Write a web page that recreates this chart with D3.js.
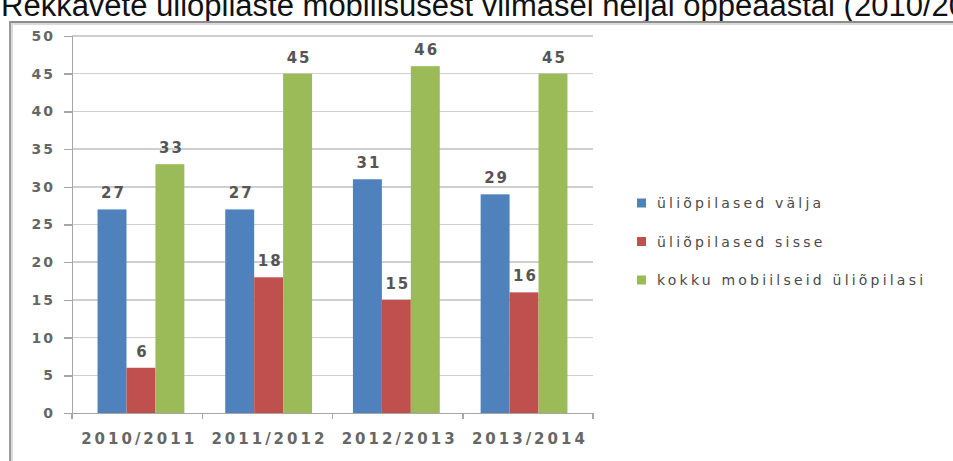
<!DOCTYPE html>
<html lang="et">
<head>
  <meta charset="UTF-8">
  <title>mobiilsus</title>
</head>
<body>
<style>
  * {
    padding: 0;
    margin: 0;
  }

  body {
    background: #fff;
    overflow: hidden;
  }

  #app {
    width: 953px;
    height: 461px;
  }

  .grid line {
    stroke: #cfcfcf;
    stroke-width: 1.5;
    shape-rendering: crispEdges;
  }

  .y-axis path, .y-axis line, .x-axis path, .x-axis line {
    stroke: #a6a6a6;
    stroke-width: 1.5;
    shape-rendering: crispEdges;
  }

  .y-axis text {
    font-family: "DejaVu Sans", sans-serif;
    font-size: 14px;
    font-weight: bold;
    fill: #666;
    letter-spacing: 2px;
  }

  .x-axis text {
    font-family: "DejaVu Sans", sans-serif;
    font-size: 15px;
    font-weight: bold;
    fill: #666;
    letter-spacing: 3px;
  }
</style>

<div id="app"></div>

<script src="https://cdn.jsdelivr.net/npm/d3@7/dist/d3.min.js"></script>

<script>

  let title = "Rekkavete üliõpilaste mobiilsusest viimasel neljal õppeaastal (2010/2014)";

  let years = ["2010/2011", "2011/2012", "2012/2013", "2013/2014"];

  let seriesNames = ["üliõpilased välja", "üliõpilased sisse", "kokku mobiilseid üliõpilasi"];
  let seriesColors = ["#4f81bd", "#c0504d", "#9bbb59"];

  let valja = [27, 27, 31, 29];
  let sisse = [6, 18, 15, 16];
  let kokku = [33, 45, 46, 45];

  let yTicks = [0, 5, 10, 15, 20, 25, 30, 35, 40, 45, 50];

  let $width = 953, $height = 461;
  let $left = 72, $right = 593, $top = 36, $bottom = 413;

  const svg = d3.select("#app").append("svg").attr("width", $width).attr("height", $height)

  // build rows from the arrays above
  const table = years.map(function (y, i) {
    return {year: y, values: [valja[i], sisse[i], kokku[i]]}
  })

  /**
   * @name title + frame
   */
  svg.append("text").text(title)
    .attr("x", 1).attr("y", 16)
    .attr("font-family", "Liberation Sans, Arial, sans-serif").attr("font-size", 31).attr("fill", "#111")

  svg.append("line").attr("x1", 10).attr("x2", $width).attr("y1", 24).attr("y2", 24)
    .attr("stroke", "#dadada").attr("stroke-width", 2)
  svg.append("line").attr("x1", 9).attr("x2", $width).attr("y1", 22).attr("y2", 22)
    .attr("stroke", "#8c8c8c").attr("stroke-width", 2)
  svg.append("line").attr("x1", 12).attr("x2", 12).attr("y1", 24).attr("y2", $height)
    .attr("stroke", "#dadada").attr("stroke-width", 2)
  svg.append("line").attr("x1", 10).attr("x2", 10).attr("y1", 21).attr("y2", $height)
    .attr("stroke", "#9a9a9a").attr("stroke-width", 2)

  /**
   * @name scales
   */
  const scaleX = d3.scaleBand().domain(years).range([$left, $right]).paddingInner(0.32).paddingOuter(0.2)
  const scaleGroup = d3.scaleBand().domain([0, 1, 2]).range([0, scaleX.bandwidth()])
  const scaleY = d3.scaleLinear().domain([0, 50]).range([$bottom, $top])

  const bandX = d3.scaleBand().domain(years).range([$left, $right])

  /**
   * @name grid
   */
  svg.append("g").classed("grid", true).selectAll("line").data(yTicks.slice(1)).enter().append("line")
    .attr("x1", $left).attr("x2", $right)
    .attr("y1", function (d) { return scaleY(d) })
    .attr("y2", function (d) { return scaleY(d) })

  /**
   * @name axes
   */
  const axisY = d3.axisLeft(scaleY).tickValues(yTicks).tickSize(8).tickPadding(9)
  svg.append("g").classed("y-axis", true).attr("transform", "translate(" + $left + ",0)").call(axisY)

  const axisX = d3.axisBottom(bandX).tickSize(0).tickPadding(20)
  const gx = svg.append("g").classed("x-axis", true).attr("transform", "translate(0," + $bottom + ")").call(axisX)
  gx.selectAll(".tick text").attr("dx", "2px")

  // category boundary ticks
  svg.append("g").classed("x-axis", true).selectAll("line")
    .data(years.concat(["end"])).enter().append("line")
    .attr("x1", function (d, i) { return $left + i * bandX.step() })
    .attr("x2", function (d, i) { return $left + i * bandX.step() })
    .attr("y1", $bottom).attr("y2", $bottom + 6)

  /**
   * @name bars
   */
  const groups = svg.selectAll(".group").data(table).enter().append("g").classed("group", true)
    .attr("transform", function (d) { return "translate(" + scaleX(d.year) + ",0)" })

  groups.selectAll("rect").data(function (d) { return d.values }).enter().append("rect")
    .attr("x", function (d, i) { return scaleGroup(i) })
    .attr("y", function (d) { return scaleY(d) })
    .attr("width", scaleGroup.bandwidth())
    .attr("height", function (d) { return $bottom - scaleY(d) })
    .attr("fill", function (d, i) { return seriesColors[i] })

  groups.selectAll("text").data(function (d) { return d.values }).enter().append("text")
    .text(function (d) { return d })
    .attr("x", function (d, i) { return scaleGroup(i) + scaleGroup.bandwidth() / 2 + 1.5 })
    .attr("y", function (d) { return scaleY(d) - 11 })
    .attr("text-anchor", "middle")
    .attr("font-family", "DejaVu Sans, sans-serif").attr("font-size", 15).attr("font-weight", "bold")
    .attr("letter-spacing", "2px").attr("fill", "#555")

  /**
   * @name legend
   */
  const legend = svg.append("g").selectAll("g").data(seriesNames).enter().append("g")
    .attr("transform", function (d, i) { return "translate(637," + (203 + i * 38.5) + ")" })

  legend.append("rect").attr("x", 0).attr("y", -4.5).attr("width", 9).attr("height", 9)
    .attr("fill", function (d, i) { return seriesColors[i] })

  legend.append("text").text(function (d) { return d })
    .attr("x", 20).attr("y", 5)
    .attr("font-family", "DejaVu Sans, sans-serif").attr("font-size", 14)
    .attr("letter-spacing", "3.2px").attr("fill", "#4a4a4a")

</script>

</body>
</html>
